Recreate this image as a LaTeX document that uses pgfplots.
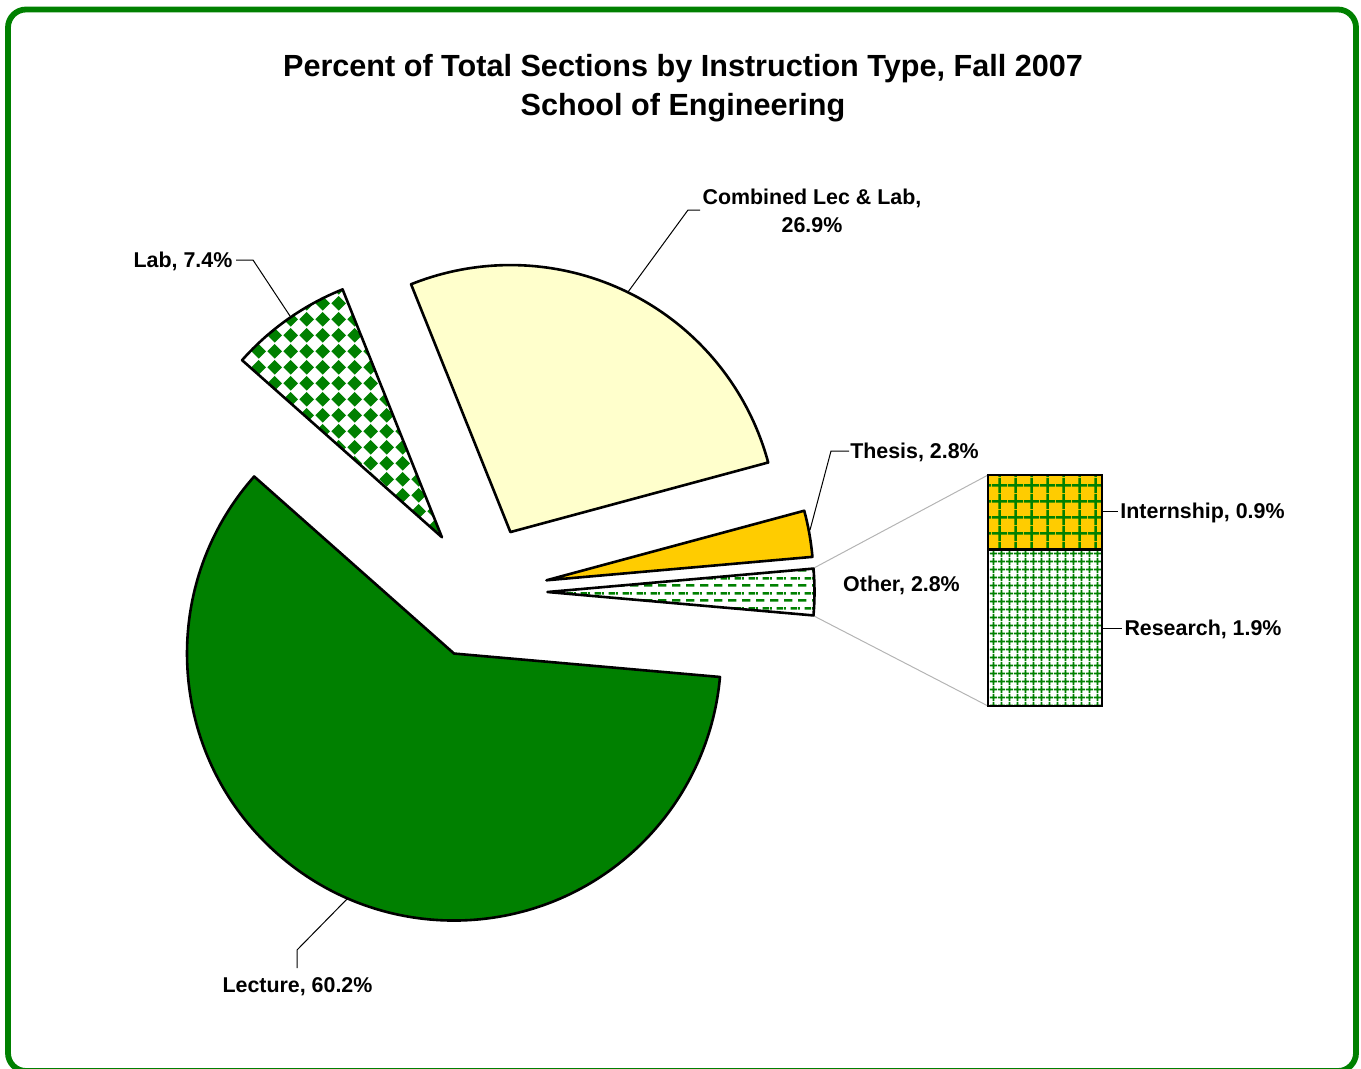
\documentclass[border=0pt]{standalone}
\usepackage{pgfplots}
\pgfplotsset{compat=1.18}
\usepackage{pgfplotstable}
\usetikzlibrary{patterns.meta}
\usepackage{fontspec}
\setmainfont{Liberation Sans}

\definecolor{xgreen}{HTML}{008000}
\definecolor{xcream}{HTML}{FFFFCC}
\definecolor{xgold}{HTML}{FFCC00}
\definecolor{xgray}{HTML}{B4B4B4}

% ---------- patterns ----------
\pgfdeclarepattern{
  name=diamondcheck, type=uncolored,
  bottom left={\pgfpoint{0bp}{0bp}}, top right={\pgfpoint{7.85bp}{7.85bp}},
  tile size={\pgfpoint{7.85bp}{7.85bp}},
  code={
    \pgfpathmoveto{\pgfpoint{3.925bp}{0.2bp}}
    \pgfpathlineto{\pgfpoint{7.65bp}{3.925bp}}
    \pgfpathlineto{\pgfpoint{3.925bp}{7.65bp}}
    \pgfpathlineto{\pgfpoint{0.2bp}{3.925bp}}
    \pgfpathclose
    \pgfusepathqfill
  }
}
\pgfdeclarepattern{
  name=dashrows, type=uncolored,
  bottom left={\pgfpoint{0bp}{0bp}}, top right={\pgfpoint{7bp}{7.5bp}},
  tile size={\pgfpoint{7bp}{7.5bp}},
  code={
    \pgfsetlinewidth{1.3bp}
    \pgfpathmoveto{\pgfpoint{0bp}{1.875bp}}\pgfpathlineto{\pgfpoint{4.5bp}{1.875bp}}
    \pgfpathmoveto{\pgfpoint{3.5bp}{5.625bp}}\pgfpathlineto{\pgfpoint{7bp}{5.625bp}}
    \pgfpathmoveto{\pgfpoint{0bp}{5.625bp}}\pgfpathlineto{\pgfpoint{1bp}{5.625bp}}
    \pgfusepathqstroke
  }
}
\pgfdeclarepattern{
  name=biggrid, type=uncolored,
  bottom left={\pgfpoint{0bp}{0bp}}, top right={\pgfpoint{8bp}{8bp}},
  tile size={\pgfpoint{8bp}{8bp}},
  code={
    \pgfsetlinewidth{1.3bp}
    \pgfpathmoveto{\pgfpoint{4bp}{0bp}}\pgfpathlineto{\pgfpoint{4bp}{8bp}}
    \pgfpathmoveto{\pgfpoint{0bp}{4bp}}\pgfpathlineto{\pgfpoint{8bp}{4bp}}
    \pgfusepathqstroke
  }
}
\pgfdeclarepattern{
  name=smallgrid, type=uncolored,
  bottom left={\pgfpoint{0bp}{0bp}}, top right={\pgfpoint{3.75bp}{3.75bp}},
  tile size={\pgfpoint{3.75bp}{3.75bp}},
  code={
    \pgfsetlinewidth{1.0bp}
    \pgfpathmoveto{\pgfpoint{1.875bp}{0bp}}\pgfpathlineto{\pgfpoint{1.875bp}{3.75bp}}
    \pgfpathmoveto{\pgfpoint{0bp}{1.875bp}}\pgfpathlineto{\pgfpoint{3.75bp}{1.875bp}}
    \pgfusepathqstroke
  }
}

% ---------- data ----------
\pgfplotstableread{
name value
Lecture 60.2
Lab 7.4
Combined 26.9
Thesis 2.8
Internship 0.9
Research 1.9
}\pietable

\pgfplotstablegetelem{0}{value}\of\pietable \let\vLec\pgfplotsretval
\pgfplotstablegetelem{1}{value}\of\pietable \let\vLab\pgfplotsretval
\pgfplotstablegetelem{2}{value}\of\pietable \let\vCom\pgfplotsretval
\pgfplotstablegetelem{3}{value}\of\pietable \let\vThe\pgfplotsretval
\pgfplotstablegetelem{4}{value}\of\pietable \let\vInt\pgfplotsretval
\pgfplotstablegetelem{5}{value}\of\pietable \let\vRes\pgfplotsretval

\pgfmathsetmacro\vOth{\vInt+\vRes}
\pgfmathsetmacro\tot{\vLec+\vLab+\vCom+\vThe+\vOth}
\pgfmathsetmacro\aS{-180*\vOth/\tot}
\pgfmathsetmacro\aA{180*\vOth/\tot}
\pgfmathsetmacro\aB{\aA+360*\vThe/\tot}
\pgfmathsetmacro\aC{\aB+360*\vCom/\tot}
\pgfmathsetmacro\aD{\aC+360*\vLab/\tot}
\pgfmathsetmacro\aE{\aS+360}
\pgfmathsetmacro\ysplit{475+231*\vInt/\vOth}

% slice: start, end, style  (centre 480,592 px; radius 267 px; explosion 67 px)
\newcommand\pieslice[3]{%
  \draw[line width=1.3bp, line join=round, #3] (axis cs:480.5,592) ++({(#1+#2)/2}:33.5bp)
     -- ++(#1:133.5bp) arc[start angle=#1, end angle=#2, radius=133.5bp] -- cycle;}

\newcommand\labfont{\fontsize{10.7bp}{14bp}\selectfont\bfseries}

\begin{document}
\begin{tikzpicture}
\begin{axis}[hide axis, scale only axis, width=680.5bp, height=534.5bp,
  xmin=0, xmax=1361, ymin=0, ymax=1069, y dir=reverse, clip=false]

% border
\draw[xgreen, line width=2.9bp, rounded corners=9bp] (axis cs:8,9.5) rectangle (axis cs:1356,1071);

% connector lines
\draw[xgray, line width=0.5bp] (axis cs:813,568.5) -- (axis cs:988,475);
\draw[xgray, line width=0.5bp] (axis cs:813,615.5) -- (axis cs:988,706);

% pie slices
\pieslice{\aS}{\aA}{preaction={fill=white}, pattern=dashrows, pattern color=xgreen, draw=black}
\pieslice{\aA}{\aB}{fill=xgold, draw=black}
\pieslice{\aB}{\aC}{fill=xcream, draw=black}
\pieslice{\aC}{\aD}{preaction={fill=white}, pattern=diamondcheck, pattern color=xgreen, draw=black}
\pieslice{\aD}{\aE}{fill=xgreen, draw=black}

% bar of pie
\addplot[draw=black, line width=1.3bp, preaction={fill=white}, pattern=smallgrid, pattern color=xgreen]
  coordinates {(988,\ysplit) (1102,\ysplit) (1102,706) (988,706)} -- cycle;
\addplot[draw=black, line width=1.3bp, preaction={fill=xgold}, pattern=biggrid, pattern color=xgreen]
  coordinates {(988,475) (1102,475) (1102,\ysplit) (988,\ysplit)} -- cycle;

% leader lines
\draw[black, line width=0.5bp] (axis cs:236,260) -- (axis cs:253,260) -- (axis cs:290,316);
\draw[black, line width=0.5bp] (axis cs:700,210) -- (axis cs:688,210) -- (axis cs:628,292);
\draw[black, line width=0.5bp] (axis cs:849,451) -- (axis cs:831,451) -- (axis cs:810,530);
\draw[black, line width=0.5bp] (axis cs:297,968) -- (axis cs:297,950) -- (axis cs:348,898);
\draw[black, line width=0.5bp] (axis cs:1102,511) -- (axis cs:1118,511);
\draw[black, line width=0.5bp] (axis cs:1102,628) -- (axis cs:1122,628);

% labels
\node[align=center, inner sep=0pt, font=\fontsize{15.3bp}{19.5bp}\selectfont\bfseries]
  at (axis cs:683,88.5) {Percent of Total Sections by Instruction Type, Fall 2007\\School of Engineering};
\node[align=center, inner sep=0pt, font=\labfont] at (axis cs:812,211) {Combined Lec \& Lab,\\26.9\%};
\node[inner sep=0pt, font=\labfont] at (axis cs:183,261) {Lab, 7.4\%};
\node[inner sep=0pt, font=\labfont] at (axis cs:914.5,452) {Thesis, 2.8\%};
\node[inner sep=0pt, font=\labfont] at (axis cs:901.5,585) {Other, 2.8\%};
\node[inner sep=0pt, font=\labfont] at (axis cs:1202.5,513) {Internship, 0.9\%};
\node[inner sep=0pt, font=\labfont] at (axis cs:1203,629) {Research, 1.9\%};
\node[inner sep=0pt, font=\labfont] at (axis cs:297.5,987) {Lecture, 60.2\%};
\end{axis}
\pgfresetboundingbox
\path (current axis.south west) rectangle (current axis.north east);
\end{tikzpicture}
\end{document}
